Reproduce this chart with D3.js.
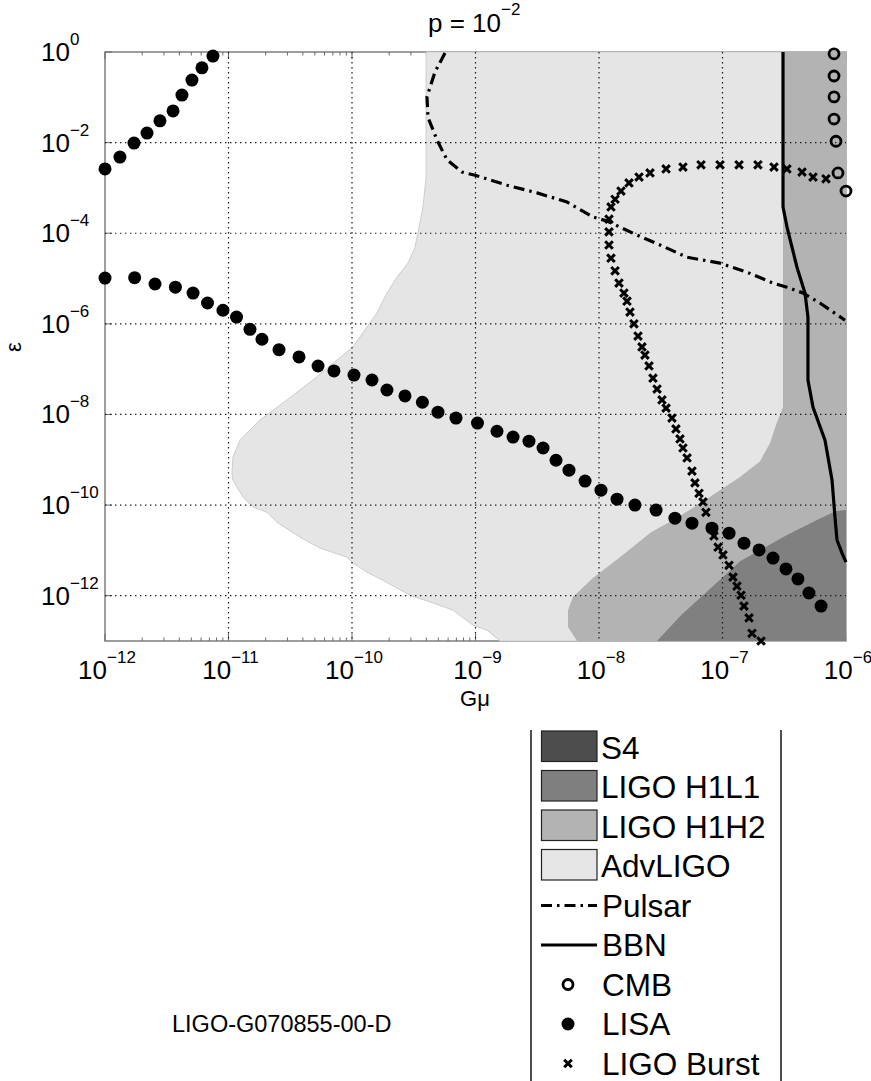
<!DOCTYPE html>
<html><head><meta charset="utf-8">
<script src="https://cdn.jsdelivr.net/npm/d3@7"></script>
<style>
body{margin:0;background:#fff}
svg{display:block}
text{font-family:"Liberation Sans",Arial,Helvetica,sans-serif;fill:#000}
</style>
</head><body>
<svg id="c" width="871" height="1081"></svg>
<script>
// ---- tick / grid exponents (log10) ----
const xTickExps = [-12,-11,-10,-9,-8,-7,-6];
const yTickExps = [0,-2,-4,-6,-8,-10,-12];
const xGridExps = [-11,-10,-9,-8,-7];
const yGridExps = [-2,-4,-6,-8,-10,-12];

// ---- regions: [log10 Gmu, log10 eps] ----
const advLigoRegion = [[-9.40,0],[-9.40,-2.76],[-9.425,-3.42],[-9.49,-4.31],[-9.547,-4.66],[-9.636,-4.97],
 [-9.717,-5.32],[-9.798,-5.76],[-9.879,-6.07],[-9.992,-6.51],[-10.154,-6.87],[-10.316,-7.24],[-10.526,-7.68],
 [-10.745,-8.12],[-10.907,-8.57],[-10.964,-8.94],[-10.972,-9.29],[-10.964,-9.45],[-10.883,-9.82],[-10.802,-10.04],
 [-10.688,-10.16],[-10.607,-10.38],[-10.421,-10.71],[-10.259,-10.95],[-10.04,-11.15],[-9.992,-11.28],[-9.879,-11.48],
 [-9.749,-11.66],[-9.53,-11.99],[-9.344,-12.16],[-9.182,-12.32],[-9.02,-12.65],[-8.907,-12.76],[-8.802,-13],
 [-6,-13],[-6,0]];
const h1h2Region = [[-6.51,0],[-6.51,-7.84],[-6.559,-8.17],[-6.615,-8.63],[-6.696,-9.03],[-6.858,-9.38],[-7.02,-9.67],
 [-7.182,-9.96],[-7.36,-10.27],[-7.579,-10.6],[-7.83,-11.15],[-8.049,-11.61],[-8.211,-12.03],[-8.251,-12.32],
 [-8.251,-12.69],[-8.178,-13],[-6,-13],[-6,0]];
const h1l1Region = [[-6,-10.11],[-6.081,-10.13],[-6.235,-10.33],[-6.478,-10.66],[-6.713,-11.02],[-6.858,-11.24],
 [-6.996,-11.59],[-7.158,-11.99],[-7.336,-12.43],[-7.53,-13],[-6,-13]];

// ---- curves ----
const pulsarCurve = [[-9.247,-0.02],[-9.328,-0.44],[-9.393,-0.99],[-9.385,-1.44],[-9.312,-1.94],[-9.231,-2.38],
 [-9.109,-2.65],[-9.004,-2.72],[-8.745,-2.94],[-8.502,-3.11],[-8.259,-3.31],[-8.049,-3.64],[-7.935,-3.73],
 [-7.725,-4.0],[-7.506,-4.26],[-7.287,-4.53],[-7.02,-4.66],[-6.802,-4.86],[-6.591,-5.1],[-6.478,-5.19],
 [-6.348,-5.32],[-6.211,-5.54],[-6.008,-5.92]];
const bbnCurve = [[-6.51,0],[-6.51,-3.42],[-6.478,-3.86],[-6.397,-4.75],[-6.332,-5.32],[-6.308,-5.85],[-6.308,-6.36],
 [-6.308,-7.24],[-6.267,-7.84],[-6.17,-8.57],[-6.113,-9.45],[-6.089,-10.27],[-6.073,-10.77],[-6.032,-11.06],[-6.0,-11.26]];

// ---- markers ----
const cmbPoints = [[-6.097,-0.04],[-6.097,-0.53],[-6.097,-0.99],[-6.097,-1.48],[-6.081,-1.97],[-6.065,-2.67],[-6.0,-3.07]];
const lisaUpper = [[-12,-2.58],[-11.879,-2.32],[-11.765,-2.01],[-11.66,-1.79],[-11.555,-1.52],[-11.449,-1.30],
 [-11.377,-0.95],[-11.296,-0.62],[-11.215,-0.35],[-11.126,-0.09]];
const lisaLower = [[-12,-4.99],[-11.76,-4.98],[-11.595,-5.12],[-11.43,-5.19],[-11.287,-5.32],[-11.17,-5.54],
 [-11.045,-5.70],[-10.935,-5.85],[-10.826,-6.12],[-10.729,-6.34],[-10.591,-6.57],[-10.429,-6.73],[-10.275,-6.93],
 [-10.146,-7.04],[-9.984,-7.13],[-9.838,-7.24],[-9.717,-7.46],[-9.571,-7.59],[-9.43,-7.73],[-9.304,-7.95],
 [-9.158,-8.08],[-8.984,-8.19],[-8.826,-8.37],[-8.696,-8.50],[-8.567,-8.59],[-8.453,-8.74],[-8.348,-9.01],
 [-8.243,-9.23],[-8.113,-9.47],[-7.984,-9.67],[-7.854,-9.87],[-7.709,-10.0],[-7.538,-10.11],[-7.385,-10.29],
 [-7.247,-10.40],[-7.085,-10.51],[-6.947,-10.62],[-6.826,-10.84],[-6.704,-10.99],[-6.591,-11.17],[-6.486,-11.41],
 [-6.389,-11.63],[-6.30,-11.94],[-6.202,-12.23]];
const burstPoints = [[-6.162,-2.80],[-6.267,-2.76],[-6.356,-2.65],[-6.478,-2.58],[-6.583,-2.54],[-6.713,-2.49],
 [-6.866,-2.49],[-7.02,-2.49],[-7.174,-2.49],[-7.32,-2.54],[-7.457,-2.58],[-7.587,-2.67],[-7.676,-2.76],
 [-7.757,-2.89],[-7.822,-3.07],[-7.87,-3.25],[-7.903,-3.42],[-7.919,-3.69],[-7.919,-3.97],[-7.919,-4.26],
 [-7.903,-4.55],[-7.87,-4.83],[-7.838,-5.10],[-7.798,-5.32],[-7.773,-5.50],[-7.749,-5.74],[-7.717,-6.0],
 [-7.684,-6.27],[-7.652,-6.51],[-7.628,-6.69],[-7.595,-6.93],[-7.563,-7.20],[-7.53,-7.44],[-7.49,-7.68],
 [-7.457,-7.86],[-7.409,-8.08],[-7.377,-8.32],[-7.344,-8.54],[-7.32,-8.74],[-7.287,-8.96],[-7.247,-9.25],
 [-7.223,-9.51],[-7.19,-9.74],[-7.158,-9.93],[-7.134,-10.16],[-7.093,-10.49],[-7.069,-10.68],[-7.036,-10.93],
 [-6.996,-11.10],[-6.947,-11.33],[-6.915,-11.59],[-6.883,-11.79],[-6.85,-11.99],[-6.826,-12.23],[-6.785,-12.49],
 [-6.761,-12.83],[-6.688,-13.0]];

// ---- legend ----
const legendPatchLabels = ["S4","LIGO H1L1","LIGO H1H2","AdvLIGO"];
const legendPatchColors = ["#4d4d4d","#7f7f7f","#b3b3b3","#e6e6e6"];
const legendLineLabels = ["Pulsar","BBN","CMB","LISA","LIGO Burst"];

const svg = d3.select("#c");
const x = d3.scaleLog().domain([1e-12,1e-6]).range([105,846]);
const y = d3.scaleLog().domain([1e-13,1]).range([641,52]);
const P = d => [x(Math.pow(10,d[0])), y(Math.pow(10,d[1]))];
const FRAME = "#6b6b6b";
const LW = 3.2;
const DASH = "11,5,2.5,5";

// frame + ticks (drawn beneath patches)
const minorX = [];
for (let e=-12;e<-6;e++) for (let k=2;k<=9;k++) minorX.push(k*Math.pow(10,e));
const majorX = xTickExps.map(e=>Math.pow(10,e));
const gAx = svg.append("g");
gAx.append("rect").attr("x",105).attr("y",52).attr("width",741).attr("height",589)
  .attr("fill","none").attr("stroke",FRAME).attr("stroke-width",1.3);
function ticks(vals,len){
  vals.forEach(v=>{
    const px=x(v);
    gAx.append("line").attr("x1",px).attr("x2",px).attr("y1",641).attr("y2",641-len).attr("stroke",FRAME);
    gAx.append("line").attr("x1",px).attr("x2",px).attr("y1",52).attr("y2",52+len).attr("stroke",FRAME);
  });
}
ticks(minorX,3.5); ticks(majorX,7);
yTickExps.forEach(e=>{
  const py=y(Math.pow(10,e));
  gAx.append("line").attr("x1",105).attr("x2",112).attr("y1",py).attr("y2",py).attr("stroke",FRAME);
});

// patches
const line = d3.line().x(d=>P(d)[0]).y(d=>P(d)[1]);
const area = d3.line().x(d=>P(d)[0]).y(d=>P(d)[1]).curve(d3.curveLinearClosed);
svg.append("path").attr("d",area(advLigoRegion)).attr("fill","#e5e5e5").attr("stroke","#cdcdcd").attr("stroke-width",1);
svg.append("path").attr("d",area(h1h2Region)).attr("fill","#b3b3b3");
svg.append("path").attr("d",area(h1l1Region)).attr("fill","#808080");

// grid
const gGrid = svg.append("g").attr("stroke","#1a1a1a").attr("stroke-width",1.2).attr("stroke-dasharray","1.4,3.6");
xGridExps.forEach(e=>{const px=x(Math.pow(10,e));
  gGrid.append("line").attr("x1",px).attr("x2",px).attr("y1",52).attr("y2",641);});
yGridExps.forEach(e=>{const py=y(Math.pow(10,e));
  gGrid.append("line").attr("x1",105).attr("x2",846).attr("y1",py).attr("y2",py);});

// tick labels
function expLabel(g,px,py,e,anchor){
  const t=g.append("text").attr("x",px).attr("y",py).attr("text-anchor",anchor).style("font-size","26px");
  t.append("tspan").text("10");
  t.append("tspan").attr("dy",-16).style("font-size","17px").text(e===0?"0":"\u2212"+Math.abs(e));
}
xTickExps.forEach(e=>expLabel(svg,x(Math.pow(10,e))+2,679,e,"middle"));
yTickExps.forEach(e=>expLabel(svg,41,y(Math.pow(10,e))+9,e,"start"));

// axis titles
svg.append("text").attr("x",475).attr("y",706).attr("text-anchor","middle").style("font-size","22px").text("G\u03bc");
svg.append("text").attr("transform","translate(21,347) rotate(-90)").attr("text-anchor","middle").style("font-size","22px").text("\u03b5");
const title = svg.append("text").attr("x",428).attr("y",32).style("font-size","26px");
title.append("tspan").text("p = 10");
title.append("tspan").attr("dy",-17).style("font-size","17px").text("\u22122");

// curves
svg.append("path").attr("d",line(pulsarCurve)).attr("fill","none").attr("stroke","#000")
  .attr("stroke-width",LW).attr("stroke-dasharray",DASH);
svg.append("path").attr("d",line(bbnCurve)).attr("fill","none").attr("stroke","#000").attr("stroke-width",LW);

// markers
const crossPath = "M-3.8,-3.8L3.8,3.8M-3.8,3.8L3.8,-3.8";
svg.append("g").selectAll("path").data(burstPoints).join("path")
  .attr("transform",d=>`translate(${P(d)[0]},${P(d)[1]})`).attr("d",crossPath)
  .attr("stroke","#000").attr("stroke-width",3).attr("fill","none");
svg.append("g").selectAll("circle").data(lisaUpper.concat(lisaLower)).join("circle")
  .attr("cx",d=>P(d)[0]).attr("cy",d=>P(d)[1]).attr("r",6.5).attr("fill","#000");
svg.append("g").selectAll("circle").data(cmbPoints).join("circle")
  .attr("cx",d=>P(d)[0]).attr("cy",d=>P(d)[1]).attr("r",5).attr("fill","none").attr("stroke","#000").attr("stroke-width",2.8);

// legend
const gL = svg.append("g");
gL.append("line").attr("x1",531).attr("x2",531).attr("y1",730).attr("y2",1081).attr("stroke","#000").attr("stroke-width",1.4);
gL.append("line").attr("x1",781).attr("x2",781).attr("y1",730).attr("y2",1081).attr("stroke","#000").attr("stroke-width",1.4);
const rowH = 39.5;
legendPatchLabels.forEach((lab,i)=>{
  const top = 731 + i*rowH;
  gL.append("rect").attr("x",541.5).attr("y",top).attr("width",55.5).attr("height",30.5)
    .attr("fill",legendPatchColors[i]).attr("stroke","#222").attr("stroke-width",1.2);
  gL.append("text").attr("x",601).attr("y",top+27.5).style("font-size","31.5px").text(lab);
});
legendLineLabels.forEach((lab,i)=>{
  const cy = 905.5 + i*rowH;
  if(i===0) gL.append("line").attr("x1",541).attr("x2",597).attr("y1",cy).attr("y2",cy)
      .attr("stroke","#000").attr("stroke-width",LW).attr("stroke-dasharray",DASH);
  if(i===1) gL.append("line").attr("x1",541).attr("x2",597).attr("y1",cy).attr("y2",cy)
      .attr("stroke","#000").attr("stroke-width",LW);
  if(i===2) gL.append("circle").attr("cx",568).attr("cy",cy).attr("r",5).attr("fill","none").attr("stroke","#000").attr("stroke-width",2.8);
  if(i===3) gL.append("circle").attr("cx",568).attr("cy",cy).attr("r",6.5).attr("fill","#000");
  if(i===4) gL.append("path").attr("transform",`translate(568,${cy})`).attr("d",crossPath).attr("stroke","#000").attr("stroke-width",3);
  gL.append("text").attr("x",602).attr("y",cy+11).style("font-size","31.5px").text(lab);
});

svg.append("text").attr("x",172).attr("y",1032).style("font-size","23.5px").text("LIGO-G070855-00-D");
</script>
</body></html>
